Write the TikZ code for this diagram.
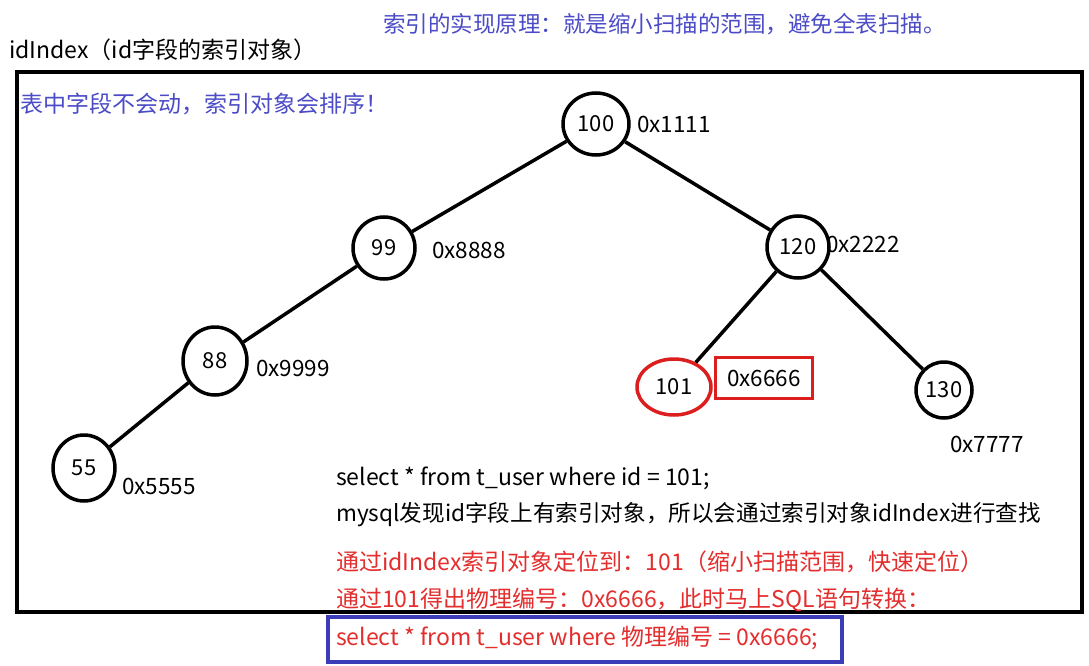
\documentclass[tikz,border=0pt]{standalone}
\usepackage{fontspec}
\setmainfont{Noto Sans CJK SC}
\usetikzlibrary{shapes.geometric}
\definecolor{txtblue}{RGB}{75,75,200}
\definecolor{txtred}{RGB}{228,45,45}
\definecolor{boxblue}{RGB}{60,60,185}
\definecolor{ringred}{RGB}{220,30,30}
\tikzset{
  tnode/.style={draw=black, line width=3.5pt, ellipse, inner sep=0pt, minimum width=62pt, minimum height=62pt, font=\fontsize{22}{24}\selectfont},
  addr/.style={anchor=west, inner sep=0pt, font=\fontsize{22.5}{24}\selectfont},
  line/.style={anchor=west, inner sep=0pt, font=\fontsize{23}{25}\selectfont},
  edge/.style={line width=3.5pt, black}
}
\begin{document}
\begin{tikzpicture}[x=1pt,y=-1pt]
\useasboundingbox[fill=white] (0,0) rectangle (1089,666);
% titles
\node[anchor=west, inner sep=0pt, text=txtblue, font=\fontsize{22.5}{24}\selectfont] (title) at (383,24) {索引的实现原理：就是缩小扫描的范围，避免全表扫描。};
\node[anchor=west, inner sep=0pt, font=\fontsize{23}{25}\selectfont] (idx) at (9,50) {idIndex（id字段的索引对象）};
% frame
\draw[line width=3.5pt] (17,72) rectangle (1082,612);
\node[anchor=west, inner sep=0pt, text=txtblue, font=\fontsize{23}{25}\selectfont] (note) at (20,104) {表中字段不会动，索引对象会排序！};
% tree nodes
\node[tnode, minimum width=66pt] (n100) at (596,124) {100};
\node[tnode] (n99) at (384,248) {99};
\node[tnode] (n120) at (798,247) {120};
\node[tnode, minimum width=64pt, minimum height=68pt] (n88) at (215,361) {88};
\node[tnode, minimum height=66pt] (n55) at (84,468) {55};
\node[tnode, draw=ringred, minimum width=74pt, minimum height=56pt] (n101) at (674,387) {101};
\node[tnode, minimum width=56pt, minimum height=56pt] (n130) at (944,390) {130};
% addresses
\node[addr] (a100) at (637,124) {0x1111};
\node[addr] (a99) at (432,250) {0x8888};
\node[addr] (a120) at (826,244) {0x2222};
\node[addr] (a88) at (256,368) {0x9999};
\node[addr] (a55) at (122,486) {0x5555};
\node[draw=ringred, line width=3.5pt, minimum width=97pt, minimum height=41pt, inner sep=0pt, font=\fontsize{22.5}{24}\selectfont] (a101) at (764,378) {0x6666};
\node[addr] (a130) at (950,444) {0x7777};
% edges
\draw[edge] (n100) -- (n99);
\draw[edge] (n100) -- (n120);
\draw[edge] (n99) -- (n88);
\draw[edge] (n88) -- (n55);
\draw[edge] (n120) -- (n101);
\draw[edge] (n120) -- (n130);
% explanation text
\node[line] (l1) at (336,478) {select * from t\_user where id = 101;};
\node[line, font=\fontsize{22.6}{25}\selectfont] (l2) at (336,515) {mysql发现id字段上有索引对象，所以会通过索引对象idIndex进行查找};
\node[line, text=txtred] (l3) at (336,562) {通过idIndex索引对象定位到：101（缩小扫描范围，快速定位）};
\node[line, text=txtred] (l4) at (336,600) {通过101得出物理编号：0x6666，此时马上SQL语句转换：};
\draw[boxblue, line width=3.5pt] (328,617) rectangle (842,662);
\node[line, text=txtred] (l5) at (336,638) {select * from t\_user where 物理编号 = 0x6666;};
\end{tikzpicture}
\end{document}
